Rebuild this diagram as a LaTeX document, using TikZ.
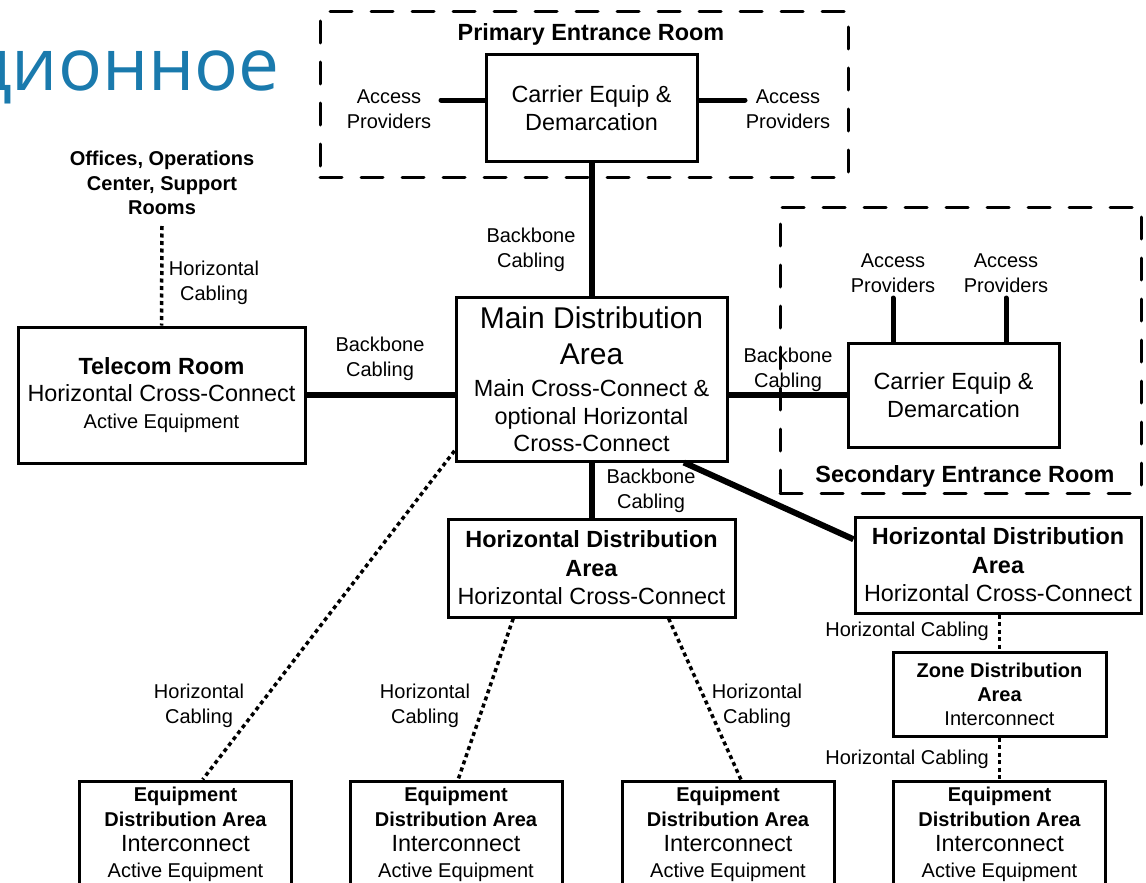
\documentclass[tikz,border=0pt]{standalone}
\usepackage{fontspec}
\setmainfont{Liberation Sans}
\newfontfamily\rufont{Open Sans}
\usetikzlibrary{calc}
\newcommand\Lg{\fontsize{23.4pt}{28pt}\selectfont}
\newcommand\Sm{\fontsize{20pt}{24.5pt}\selectfont}
\newcommand\fs[2]{\fontsize{#1pt}{#2pt}\selectfont}
\definecolor{rublue}{RGB}{26,122,173}
\tikzset{
  box/.style={draw, line width=3pt, inner sep=0pt, align=center},
  room/.style={draw, line width=3pt, dash pattern=on 22pt off 19pt, line cap=round, inner sep=0pt},
  lbl/.style={inner sep=0pt, align=center, font=\Sm},
  bb/.style={line width=6pt},
  acc/.style={line width=5pt, line cap=round},
  hc/.style={line width=3.5pt, dash pattern=on 4pt off 3.5pt},
}
\begin{document}
\begin{tikzpicture}[x=1pt,y=-1pt]
\useasboundingbox (0,0) rectangle (1146,883);

% Russian heading fragment
\node[anchor=base east, inner sep=0pt, text=rublue, font=\rufont\fontsize{73pt}{80pt}\selectfont] (ru) at (280,90) {ционное};

% Primary entrance room
\node[room, minimum width=528pt, minimum height=165pt] (per) at (584,94.5) {};
\node[inner sep=0pt, font=\Lg\bfseries] (pertitle) at (591,34) {Primary Entrance Room};
\node[box, minimum width=211pt, minimum height=106pt, font=\Lg] (car1) at (591.5,108) {Carrier Equip \&\\Demarcation};
\node[lbl] (apl) at (389,109) {Access\\Providers};
\node[lbl] (apr) at (788,109) {Access\\Providers};
\coordinate (apl-e) at (441,100);
\coordinate (apr-w) at (745,100);
\draw[acc] (apl-e) -- (car1.west |- apl-e);
\draw[acc] (apr-w) -- (car1.east |- apr-w);

% Main distribution area
\node[box, minimum width=271pt, minimum height=164pt, font=\fs{23.4}{28}] (mda) at (591.5,379)
  {\fs{30}{28}Main Distribution\\[8pt]\fs{30}{28}Area\\[4pt]\fs{23.4}{28}Main Cross-Connect \&\\optional Horizontal\\[-1pt]Cross-Connect};
\draw[bb] (car1.south) -- (mda.north);
\node[lbl] (bb1) at (531,250) {Backbone\\Cabling};

% Offices / telecom room
\node[inner sep=0pt, align=center, font=\Sm\bfseries] (off) at (162,183) {Offices, Operations\\Center, Support\\Rooms};
\node[box, minimum width=287pt, minimum height=136pt, font=\fs{23.4}{27}] (tr) at (161.5,395)
  {\bfseries Telecom Room\\Horizontal Cross-Connect\\\fs{20}{27}Active Equipment};
\coordinate (off-s) at (162,226);
\draw[hc] (off-s) -- (tr.north);
\node[lbl] (hc0) at (214,283) {Horizontal\\Cabling};
\draw[bb] (tr.east) -- (mda.west |- tr.east);
\node[lbl] (bb2) at (380,359) {Backbone\\Cabling};

% Secondary entrance room
\node[room, minimum width=361pt, minimum height=286pt] (ser) at (960.5,350) {};
\node[box, minimum width=211pt, minimum height=104pt, font=\Lg] (car2) at (953.5,395) {Carrier Equip \&\\Demarcation};
\node[lbl] (ap3) at (893,273) {Access\\Providers};
\node[lbl] (ap4) at (1006,273) {Access\\Providers};
\coordinate (ap3-s) at (893,298);
\coordinate (ap4-s) at (1006,298);
\draw[acc] (ap3-s) -- (ap3-s |- car2.north);
\draw[acc] (ap4-s) -- (ap4-s |- car2.north);
\draw[bb] (mda.east |- car2.west) -- (car2.west);
\node[lbl] (bb3) at (788,370) {Backbone\\Cabling};
\node[inner sep=0pt, font=\Lg\bfseries] (sertitle) at (965,476) {Secondary Entrance Room};

% Horizontal distribution areas
\node[box, minimum width=287pt, minimum height=98pt, font=\fs{23.4}{28.5}] (hda1) at (591.5,568)
  {\bfseries Horizontal Distribution\\\bfseries Area\\Horizontal Cross-Connect};
\draw[bb] (mda.south) -- (hda1.north);
\node[lbl] (bb4) at (651,491) {Backbone\\Cabling};
\node[box, minimum width=286pt, minimum height=96pt, font=\fs{23.4}{28.5}] (hda2) at (998,565)
  {\bfseries Horizontal Distribution\\\bfseries Area\\Horizontal Cross-Connect};
\draw[bb] ($(mda.south west)!0.837!(mda.south east)$) -- ($(hda2.north west)!0.24!(hda2.south west)$);

% Zone distribution area
\node[box, minimum width=213pt, minimum height=84pt, font=\fs{20}{24}] (zda) at (999.5,694)
  {\bfseries Zone Distribution\\\bfseries Area\\Interconnect};
\draw[hc] (hda2.south -| zda.north) -- (zda.north);
\node[lbl, anchor=east] (hc5) at (989,631) {Horizontal Cabling};

% Equipment distribution areas
\foreach \n/\x in {1/185.5, 2/456, 3/728, 4/999.5}{
  \node[box, minimum width=212pt, minimum height=106pt, font=\fs{20}{25.3}] (eda\n) at (\x,834)
    {\bfseries Equipment\\\bfseries Distribution Area\\\fs{23.4}{25.3}Interconnect\\\fs{20}{25.3}Active Equipment};
}
\draw[hc] (zda.south) -- (zda.south |- eda4.north);
\node[lbl, anchor=east] (hc6) at (989,759) {Horizontal Cabling};

\draw[hc] ($(mda.north west)!0.93!(mda.south west)$) -- ($(eda1.north west)!0.58!(eda1.north east)$);
\draw[hc] ($(hda1.south west)!0.23!(hda1.south east)$) -- ($(eda2.north west)!0.51!(eda2.north east)$);
\draw[hc] ($(hda1.south west)!0.766!(hda1.south east)$) -- ($(eda3.north west)!0.56!(eda3.north east)$);
\node[lbl] (hc1) at (199,706) {Horizontal\\Cabling};
\node[lbl] (hc2) at (425,706) {Horizontal\\Cabling};
\node[lbl] (hc3) at (757,706) {Horizontal\\Cabling};
\end{tikzpicture}
\end{document}
